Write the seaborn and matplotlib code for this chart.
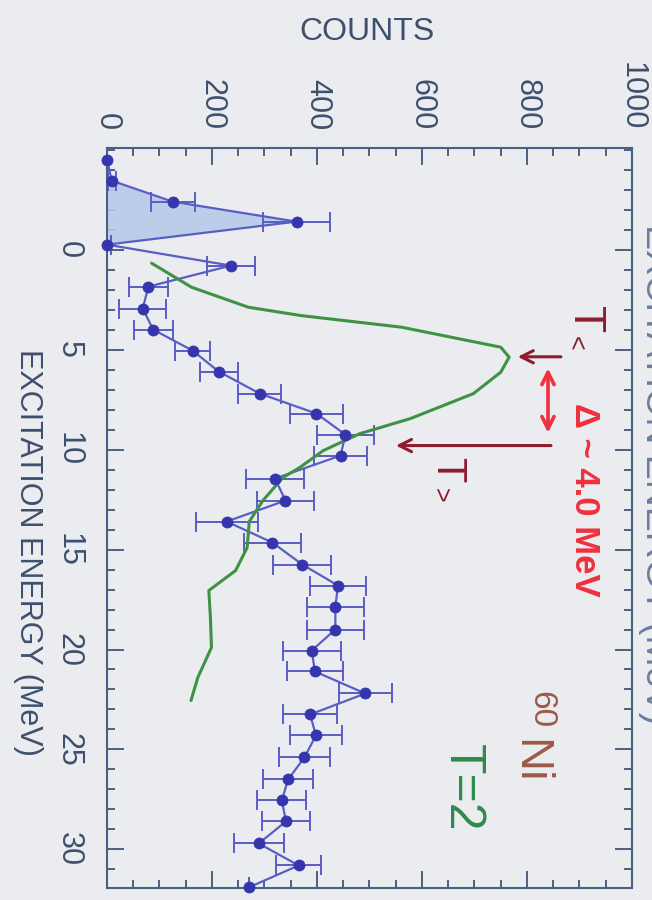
#Recreate the rotated 60Ni excitation energy spectrum (scanned figure, turned 90 deg)

#Import the libraries
import numpy as np
import matplotlib
matplotlib.use('Agg')
import matplotlib.pyplot as plt
import seaborn as sns

sns.set_theme(style='ticks')
plt.rcParams['font.family'] = ['Liberation Sans', 'DejaVu Sans']

#Data points (excitation energy in MeV, counts, counts error)
energy = [-4.5, -3.45, -2.4, -1.4, -0.25, 0.8, 1.85, 2.95, 4.0, 5.05, 6.1, 7.2,
          8.2, 9.25, 10.3, 11.45, 12.55, 13.6, 14.65, 15.75, 16.8, 17.85, 19.0,
          20.05, 21.1, 22.2, 23.25, 24.3, 25.4, 26.5, 27.55, 28.6, 29.7, 30.8, 31.9]
counts = [0, 9, 125, 361, 0, 236, 79, 68, 88, 163, 213, 291,
          399, 454, 445, 320, 340, 228, 315, 372, 440, 435, 435,
          390, 396, 492, 387, 398, 376, 345, 333, 341, 289, 365, 270]
count_err = [0, 8, 42, 64, 8, 46, 37, 45, 37, 34, 36, 41,
             50, 54, 51, 55, 55, 59, 54, 55, 53, 54, 54,
             55, 54, 50, 52, 49, 49, 48, 47, 45, 48, 43, 0]

#Green T=2 curve
t2_energy = [0.68, 1.88, 2.88, 3.3, 3.88, 4.88, 5.38, 6.13, 7.2, 8.45, 9.2, 10.05,
             10.9, 11.4, 12.55, 13.6, 14.9, 16.05, 17.05, 18.4, 19.9, 21.4, 22.55]
t2_counts = [85, 161, 269, 370, 561, 750, 766, 750, 698, 578, 482, 412,
             367, 335, 297, 271, 267, 245, 194, 197, 199, 173, 160]

#Shaded peak (points 1..4)
peak_slice = slice(1, 5)

paper = '#eaecf0'
axis_col = '#4b6182'
text_col = '#3e506d'
blue = '#3535ae'
blue_line = '#5a5ec4'
green = '#3f9243'
dark_red = '#8c1c2e'
red = '#f0303e'

fig = plt.figure(figsize=(6.52, 9), dpi=100, facecolor=paper)
ax = fig.add_axes([0.1641, 0.0133, 0.8052, 0.8222])
ax.set_facecolor(paper)

#Shaded region
ax.fill_betweenx(energy[peak_slice], 0, counts[peak_slice], color='#b7cae9',
                 alpha=0.9, lw=0, zorder=1)

#Error bars, line, points
ax.errorbar(counts, energy, xerr=count_err, fmt='none', ecolor=blue_line,
            elinewidth=1.4, capsize=7, capthick=1.4, zorder=2)
sns.lineplot(x=counts, y=energy, sort=False, estimator=None, orient='y',
             color=blue_line, lw=1.6, ax=ax, zorder=3)
sns.scatterplot(x=counts, y=energy, color=blue, s=64, edgecolor=blue,
                linewidth=0.5, ax=ax, zorder=4, clip_on=False)

#Green curve
sns.lineplot(x=t2_counts, y=t2_energy, sort=False, estimator=None, orient='y',
             color=green, lw=2.2, ax=ax, zorder=3)

#Axes ranges and ticks
ax.set_xlim(0, 1000)
ax.set_ylim(31.93, -5.08)
ax.set_xticks(np.arange(0, 1001, 200))
ax.set_xticks(np.arange(0, 1001, 50), minor=True)
ax.set_yticks(np.arange(0, 31, 5))
ax.set_yticks(np.arange(-5, 32, 1), minor=True)
ax.tick_params(which='both', direction='in', top=True, bottom=True, left=True,
               right=True, labeltop=True, labelbottom=False, color=axis_col,
               width=1.4)
ax.tick_params(which='major', length=12)
ax.tick_params(which='minor', length=6)
ax.tick_params(axis='x', labelrotation=-90, labelsize=22, labelcolor=text_col, pad=13)
ax.tick_params(axis='y', labelrotation=-90, labelsize=22, labelcolor=text_col, pad=17)
for lab in ax.get_yticklabels():
    lab.set_verticalalignment('center')
for s in ax.spines.values():
    s.set_color(axis_col)
    s.set_linewidth(1.5)

ax.set_xlabel('COUNTS', fontsize=23, color=text_col)
ax.xaxis.set_label_position('top')
ax.xaxis.label.set_verticalalignment('center')
ax.xaxis.set_label_coords(0.495, 1.157)
ax.set_ylabel('EXCITATION ENERGY (MeV)', fontsize=22, color=text_col,
              rotation=-90, va='center', ha='center')
ax.yaxis.set_label_coords(-0.151, 0.453)

#Label of the other axis, cut off at the right edge of the scan
fig.text(656 / 652, 1 - 474 / 900, 'EXCITATION ENERGY (MeV)', rotation=-90,
         ha='center', va='center', fontsize=27, color='#6c7d9c')

#Hand annotations
ax.annotate('', xy=(777, 5.36), xytext=(870, 5.36),
            arrowprops=dict(arrowstyle='->', color=dark_red, lw=2.2, mutation_scale=22))
ax.annotate('', xy=(840, 5.8), xytext=(840, 9.3),
            arrowprops=dict(arrowstyle='<->', color=red, lw=2.6, mutation_scale=22))
ax.annotate('', xy=(545, 9.8), xytext=(851, 9.8),
            arrowprops=dict(arrowstyle='->', color=dark_red, lw=2.2, mutation_scale=22))

ax.text(910, 3.5, 'T', rotation=-90, fontsize=32, color=dark_red, ha='center', va='center')
ax.text(891, 4.7, '<', rotation=-90, fontsize=18, color=dark_red, ha='center', va='center')
ax.text(648, 11.0, 'T', rotation=-90, fontsize=30, color=dark_red, ha='center', va='center')
ax.text(634, 12.3, '>', rotation=-90, fontsize=18, color=dark_red, ha='center', va='center')
ax.text(910, 12.5, 'Δ ~ 4.0 MeV', rotation=-90, fontsize=25, fontweight='bold',
        color=red, ha='center', va='center')
ax.text(827, 23.0, '60', rotation=-90, fontsize=24, color='#9c5a48', ha='center', va='center')
ax.text(804, 25.6, 'Ni', rotation=-90, fontsize=34, color='#9c5a48', ha='center', va='center')
ax.text(676, 26.9, 'T=2', rotation=-90, fontsize=36, color='#2f8a4c', ha='center', va='center')

fig.savefig('out.png', dpi=100, facecolor=paper)
